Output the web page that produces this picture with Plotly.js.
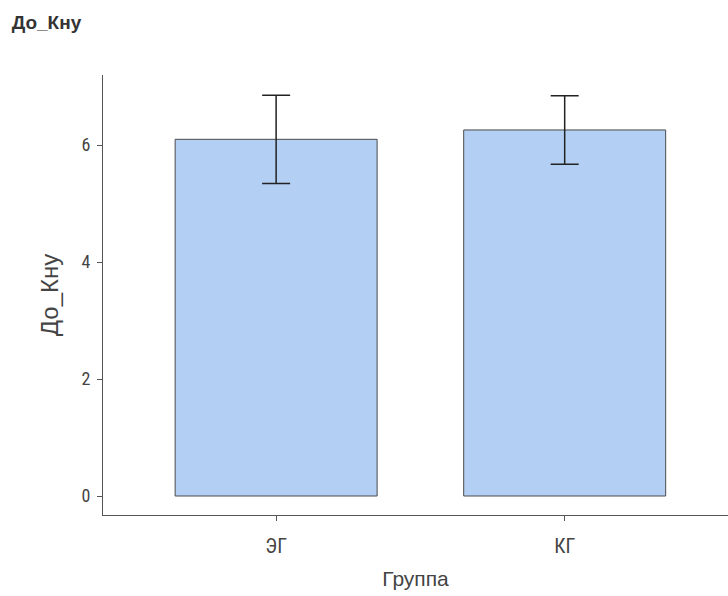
<!DOCTYPE html>
<html>
<head>
<meta charset="utf-8">
<script src="https://cdn.plot.ly/plotly-3.0.1.min.js"></script>
<style>html,body{margin:0;padding:0;background:#fff;}#chart{width:728px;height:596px;}</style>
</head>
<body>
<div id="chart"></div>
<script>
var groups = ["ЭГ", "КГ"];
var means = [6.10, 6.26];
var errors = [0.755, 0.585];
var yTicks = [0, 2, 4, 6];

var trace = {
  type: "bar",
  x: groups,
  y: means,
  width: 0.7,
  marker: {color: "#b3cff4", line: {color: "#4a4a4a", width: 1}},
  error_y: {type: "data", array: errors, visible: true, color: "#222222", thickness: 1.5, width: 14},
  hoverinfo: "none"
};

var narrow = "'Liberation Sans Narrow', 'Roboto Condensed', 'Liberation Sans', sans-serif";

var layout = {
  width: 728, height: 596,
  margin: {l: 103, r: 0, t: 75, b: 81},
  paper_bgcolor: "#ffffff",
  plot_bgcolor: "#ffffff",
  showlegend: false,
  font: {family: narrow, color: "#444444"},
  title: {
    text: "<b>До_Кну</b>",
    x: 0.016, xanchor: "left",
    y: 0.963, yanchor: "middle",
    font: {family: "'Liberation Sans', Arial, sans-serif", size: 19, color: "#333333"}
  },
  xaxis: {
    type: "category",
    range: [-0.6, 1.566],
    showline: true, linecolor: "#555555", linewidth: 1,
    ticks: "outside", ticklen: 5, tickcolor: "#555555",
    ticklabelstandoff: 8,
    showgrid: false, zeroline: false,
    tickfont: {family: narrow, size: 20, color: "#444444"},
    title: {text: "Группа", font: {family: "'Liberation Sans', Arial, sans-serif", size: 21, color: "#444444"}, standoff: 14}
  },
  yaxis: {
    range: [-0.325, 7.2],
    tickvals: yTicks,
    showline: true, linecolor: "#555555", linewidth: 1,
    ticks: "outside", ticklen: 5, tickcolor: "#555555",
    ticklabelstandoff: 3,
    showgrid: false, zeroline: false,
    tickfont: {family: narrow, size: 18, color: "#444444"},
    title: {text: "До_Кну", font: {family: "'Liberation Sans', Arial, sans-serif", size: 24, color: "#444444"}, standoff: 16}
  }
};

Plotly.newPlot("chart", [trace], layout, {staticPlot: true, displayModeBar: false});
</script>
</body>
</html>
